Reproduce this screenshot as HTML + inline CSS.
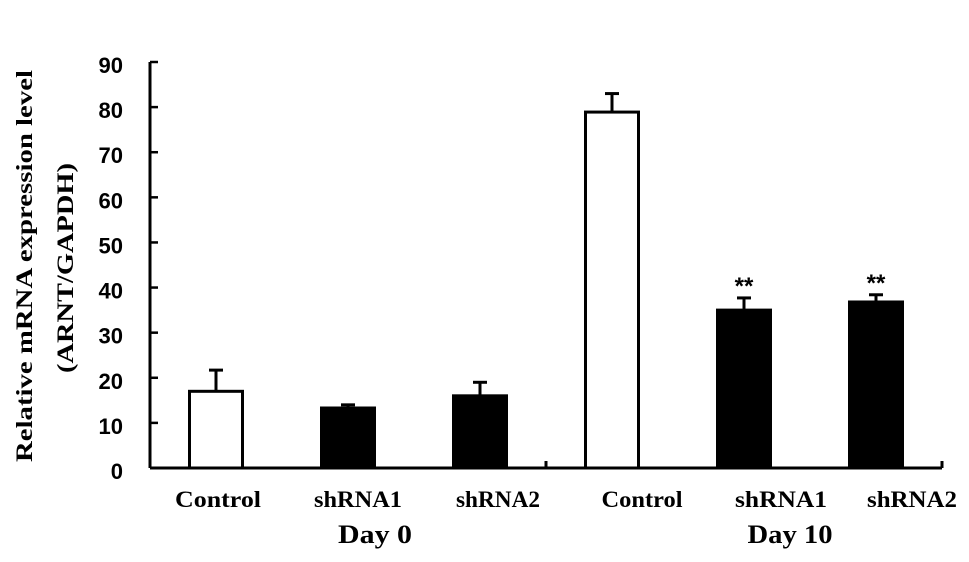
<!DOCTYPE html>
<html><head><meta charset="utf-8"><style>
html,body{margin:0;padding:0;background:#fff;}
svg{display:block;}
.tick{font-family:"Liberation Sans",sans-serif;font-weight:bold;font-size:22px;}
.cat{font-family:"Liberation Serif",serif;font-weight:bold;font-size:23px;}
.day{font-family:"Liberation Serif",serif;font-weight:bold;font-size:26px;}
.ttl{font-family:"Liberation Serif",serif;font-weight:bold;font-size:23px;}
</style></head><body>
<svg id="chart" width="969" height="562" viewBox="0 0 969 562">
<g id="axes"></g>
<g id="bars"></g>
<g id="labels"></g>
<text class="ttl" transform="translate(32,266) rotate(-90)" text-anchor="middle" textLength="392" lengthAdjust="spacingAndGlyphs">Relative mRNA expression level</text>
<text class="ttl" transform="translate(73,268) rotate(-90)" text-anchor="middle" textLength="210" lengthAdjust="spacingAndGlyphs">(ARNT/GAPDH)</text>
</svg>
<script>
const categories = ["Control","shRNA1","shRNA2","Control","shRNA1","shRNA2"];
const values = [17, 13.3, 16, 78.9, 35, 36.8];
const errors = [4.7, 0.7, 3, 4.1, 2.7, 1.6];
const fills = ["white","black","black","white","black","black"];
const significant = [false,false,false,false,true,true];
const yTicks = [0,10,20,30,40,50,60,70,80,90];
const groups = ["Day 0","Day 10"];

const NS="http://www.w3.org/2000/svg";
const x0=150,x1=942,y0=468,yTop=62,yMax=90;
const band=(x1-x0)/categories.length;
const barW=53;
const labelShift=[2,10,18,30,37,36];
const labelLen=[86,88,84,81,92,90];
const groupShift=[27,46];
const groupLen=[74,85];
function yScale(v){return y0-(v/yMax)*(y0-yTop);}
function xCenter(i){return x0+band*(i+0.5);}
function mk(tag,attrs,parent){const e=document.createElementNS(NS,tag);for(const k in attrs)e.setAttribute(k,attrs[k]);parent.appendChild(e);return e;}
const axes=document.getElementById('axes'),bars=document.getElementById('bars'),labels=document.getElementById('labels');

let l=mk('line',{x1:x0,y1:yScale(yMax),x2:x0,y2:y0,stroke:'#000','stroke-width':3},axes);


l=mk('line',{x1:x0,y1:y0,x2:x1,y2:y0,stroke:'#000','stroke-width':3},axes);


[x0+band*3,x1].forEach(function(xx){
  const t=mk('line',{x1:xx,y1:y0,x2:xx,y2:y0-7,stroke:'#000','stroke-width':3},axes);
  
  
});
yTicks.forEach(function(v){
  const y=yScale(v);
  const t=mk('line',{x1:x0,y1:y,x2:x0+8,y2:y,stroke:'#000','stroke-width':2.5},axes);
  
  
  const tx=mk('text',{x:123,y:y+11,'text-anchor':'end','class':'tick'},labels);
  tx.textContent=v;
  
  
});
categories.forEach(function(c,i){
  const cx=xCenter(i),top=yScale(values[i]),et=yScale(values[i]+errors[i]);
  const eb=mk('line',{x1:cx,y1:top,x2:cx,y2:et,stroke:'#000','stroke-width':3},bars);
  
  
  const cap=mk('line',{x1:cx-7,y1:et,x2:cx+7,y2:et,stroke:'#000','stroke-width':3},bars);
  
  
  const r=mk('rect',{x:cx-barW/2,y:top,width:barW,height:y0-top,fill:fills[i],stroke:'#000','stroke-width':3},bars);
  
  
  if(significant[i]){
    const s=mk('text',{x:cx,y:et-4,'text-anchor':'middle','font-family':'Liberation Sans, sans-serif','font-weight':'bold','font-size':'24px'},labels);
    s.textContent='**';
    
    
  }
  const lx=mk('text',{x:cx+labelShift[i],y:507,'text-anchor':'middle','class':'cat',textLength:labelLen[i],lengthAdjust:'spacingAndGlyphs'},labels);
  lx.textContent=c;
  
  
});
groups.forEach(function(g,gi){
  const cx=(xCenter(gi*3)+xCenter(gi*3+2))/2+groupShift[gi];
  const t=mk('text',{x:cx,y:543,'text-anchor':'middle','class':'day',textLength:groupLen[gi],lengthAdjust:'spacingAndGlyphs'},labels);
  t.textContent=g;
  
  
});
</script>
</body></html>
